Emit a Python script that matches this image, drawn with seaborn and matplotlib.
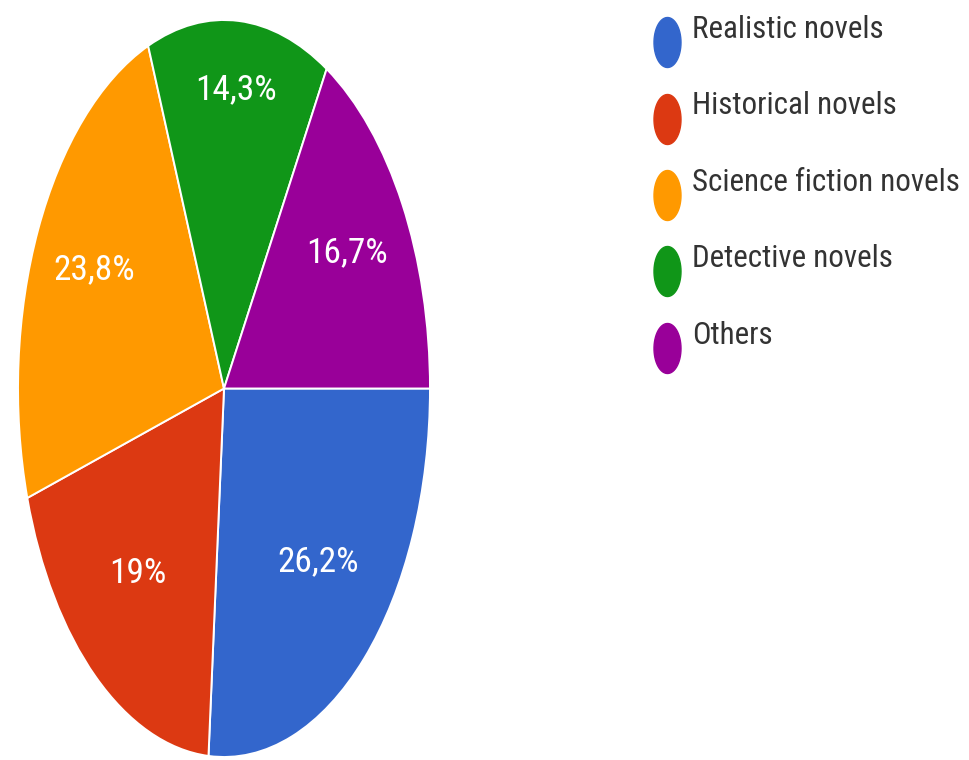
import numpy as np
import matplotlib
matplotlib.use("Agg")
import matplotlib.pyplot as plt
from matplotlib.lines import Line2D
from matplotlib.path import Path
from matplotlib.transforms import ScaledTranslation
import seaborn as sns

# Survey answers: favourite genre of novel
genres = ["Realistic novels", "Historical novels", "Science fiction novels",
          "Detective novels", "Others"]
shares = [26.2, 19.0, 23.8, 14.3, 16.7]
share_labels = ["26,2%", "19%", "23,8%", "14,3%", "16,7%"]
colors = ["#3366cc", "#dc3912", "#ff9900", "#109618", "#990099"]

sns.set_theme(style="white")
plt.rcParams["font.family"] = ["Roboto Condensed", "Archivo Narrow",
                               "Liberation Sans", "DejaVu Sans"]

fig = plt.figure(figsize=(9.69, 7.6), dpi=100)
# pie stretched into a tall ellipse
ax = fig.add_axes([18 / 969, 3 / 760, 412 / 969, 737 / 760])
wedges, _ = ax.pie(shares, colors=colors, startangle=0, counterclock=False,
                   radius=1.0,
                   wedgeprops=dict(edgecolor="white", linewidth=1.4))
ax.set_aspect("auto")
ax.set_xlim(-1, 1)
ax.set_ylim(-1, 1)
ax.axis("off")

# percentage labels placed along each wedge's mid-angle, nudged up a little
label_radius = [0.67, 0.67, 0.70, 0.79, 0.69]
lift = ax.transData + ScaledTranslation(0, 8 / 100, fig.dpi_scale_trans)
for w, txt, r in zip(wedges, share_labels, label_radius):
    mid = np.deg2rad((w.theta1 + w.theta2) / 2)
    ax.text(r * np.cos(mid), r * np.sin(mid), txt, color="white",
            fontsize=25.5, ha="center", va="center", transform=lift)

# legend with tall oval markers sitting slightly below the text line
t = np.linspace(0, 2 * np.pi, 60)
oval = Path(np.column_stack([0.54 * np.cos(t), np.sin(t) - 0.6]), closed=True)
handles = [Line2D([], [], linestyle="none", marker=oval, markersize=57.6,
                  markerfacecolor=c, markeredgecolor=c) for c in colors]
fig.legend(handles, genres, loc="upper left",
           bbox_to_anchor=(652 / 969, 1.0 - 15 / 760),
           frameon=False, fontsize=22.3, labelcolor="#333333",
           handlelength=1.0, handletextpad=0.3, labelspacing=1.53,
           borderaxespad=0.0, borderpad=0.0)

fig.savefig("out.png", dpi=100)
